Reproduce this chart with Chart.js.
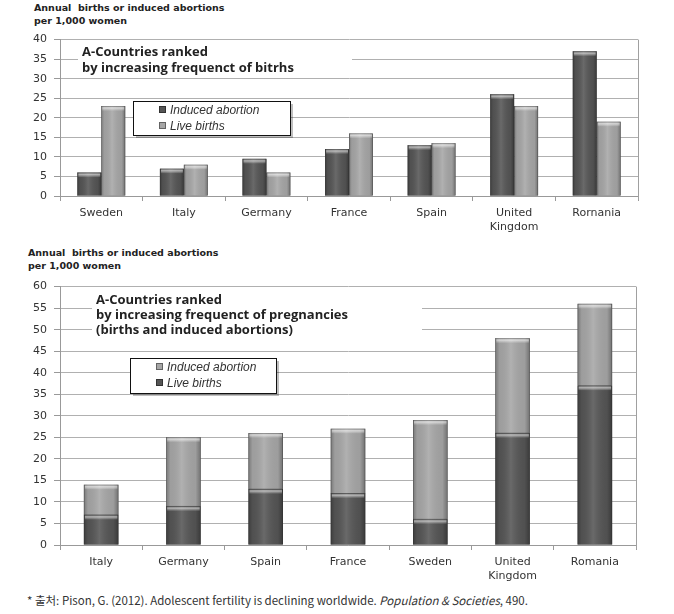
<!DOCTYPE html>
<html>
<head>
<meta charset="utf-8">
<script src="https://cdn.jsdelivr.net/npm/chart.js@4.4.0/dist/chart.umd.min.js"></script>
<style>
  body { margin: 0; background: #fff; width: 674px; height: 614px; position: relative; overflow: hidden; }
  .ytitle { position: absolute; font: bold 9.5px "DejaVu Sans", sans-serif; color: #222; line-height: 13px; white-space: pre; }
  canvas { position: absolute; left: 0; }
  .note { position: absolute; left: 27px; top: 592px; font: 11.5px "Noto Sans CJK KR", sans-serif; color: #333; white-space: pre; }
</style>
</head>
<body>
<div class="ytitle" style="left:34px; top:1px;">Annual  births or induced abortions
per 1,000 women</div>
<canvas id="top" width="674" height="214" style="top:26px"></canvas>

<div class="ytitle" style="left:28px; top:246px;">Annual  births or induced abortions
per 1,000 women</div>
<canvas id="bottom" width="674" height="315" style="top:273px"></canvas>

<div class="note">* 출처: Pison, G. (2012). Adolescent fertility is declining worldwide. <i>Population &amp; Societies</i>, 490.</div>

<script>
// top chart: countries ranked by births
const countriesA = ["Sweden", "Italy", "Germany", "France", "Spain", ["United", "Kingdom"], "Rornania"];
const abortionA = [6, 7, 9.5, 12, 13, 26, 37];
const birthsA = [23, 8, 6, 16, 13.5, 23, 19];

// bottom chart: countries ranked by pregnancies (stacked)
const countriesB = ["Italy", "Germany", "Spain", "France", "Sweden", ["United", "Kingdom"], "Romania"];
const birthsB = [7, 9, 13, 12, 6, 26, 37];
const abortionB = [7, 16, 13, 15, 23, 22, 19];

const DARK = '#555555';
const LIGHT = '#a6a6a6';

// gives the bars a rounded, shaded look
const shadeBars = {
  id: 'shadeBars',
  afterDatasetsDraw(chart) {
    const ctx = chart.ctx;
    chart.data.datasets.forEach((ds, i) => {
      const meta = chart.getDatasetMeta(i);
      meta.data.forEach(bar => {
        const x0 = bar.x - bar.width / 2, x1 = bar.x + bar.width / 2;
        const top = Math.min(bar.y, bar.base), bot = Math.max(bar.y, bar.base);
        const g = ctx.createLinearGradient(x0, 0, x1, 0);
        g.addColorStop(0, 'rgba(0,0,0,0.28)');
        g.addColorStop(0.12, 'rgba(0,0,0,0.05)');
        g.addColorStop(0.45, 'rgba(255,255,255,0.12)');
        g.addColorStop(0.85, 'rgba(0,0,0,0.05)');
        g.addColorStop(1, 'rgba(0,0,0,0.32)');
        ctx.save();
        ctx.fillStyle = g;
        ctx.fillRect(x0, top, x1 - x0, bot - top);
        // light cap on top of each segment
        const cap = ctx.createLinearGradient(0, top, 0, top + 5);
        cap.addColorStop(0, 'rgba(255,255,255,0.15)');
        cap.addColorStop(0.4, 'rgba(255,255,255,0.55)');
        cap.addColorStop(1, 'rgba(255,255,255,0)');
        ctx.fillStyle = cap;
        ctx.fillRect(x0 + 1, top, x1 - x0 - 2, Math.min(5, bot - top));
        ctx.strokeStyle = 'rgba(40,40,40,0.5)';
        ctx.lineWidth = 0.6;
        ctx.strokeRect(x0 + 0.3, top + 0.3, x1 - x0 - 0.6, bot - top - 0.3);
        ctx.restore();
      });
    });
  }
};

// right border of the plot
const frameRight = {
  id: 'frameRight',
  beforeDatasetsDraw(chart) {
    const { ctx, chartArea: a } = chart;
    ctx.save();
    ctx.strokeStyle = '#a0a0a0';
    ctx.lineWidth = 1;
    ctx.beginPath();
    ctx.moveTo(a.right + 0.5, a.top);
    ctx.lineTo(a.right + 0.5, a.bottom + 4);
    ctx.stroke();
    ctx.restore();
  }
};

function titleBox(lines, x, y, w, h, step) {
  return {
    id: 'titleBox',
    beforeDatasetsDraw(chart) {
      const ctx = chart.ctx;
      ctx.save();
      ctx.fillStyle = '#fff';
      ctx.fillRect(x, y, w, h);
      ctx.fillStyle = '#222';
      ctx.font = 'bold 13px "Open Sans", sans-serif';
      ctx.textBaseline = 'middle';
      lines.forEach((t, i) => ctx.fillText(t, x + 4, y + 8 + i * step));
      ctx.restore();
    }
  };
}

function legendBox(items, x, y, w, h) {
  return {
    id: 'legendBox',
    afterDatasetsDraw(chart) {
      const ctx = chart.ctx;
      ctx.save();
      ctx.fillStyle = 'rgba(0,0,0,0.25)';
      ctx.fillRect(x + 3, y + 3, w, h);
      ctx.fillStyle = '#fff';
      ctx.fillRect(x, y, w, h);
      ctx.strokeStyle = '#111';
      ctx.lineWidth = 1;
      ctx.strokeRect(x + 0.5, y + 0.5, w, h);
      ctx.font = 'italic 12px "Liberation Sans", sans-serif';
      ctx.textBaseline = 'middle';
      items.forEach((it, i) => {
        const cy = y + 9 + i * 16;
        ctx.fillStyle = it.color;
        ctx.fillRect(x + 26, cy - 4, 7, 7);
        ctx.strokeStyle = 'rgba(0,0,0,0.4)';
        ctx.strokeRect(x + 26.5, cy - 3.5, 6, 6);
        ctx.fillStyle = '#333';
        ctx.fillText(it.text, x + 37, cy + 1);
      });
      ctx.restore();
    }
  };
}

function scales(max, stacked, xHeight) {
  return {
    x: {
      stacked: stacked,
      grid: { drawOnChartArea: false, tickLength: 5, color: '#999' },
      border: { color: '#999' },
      ticks: { color: '#333', font: { family: 'DejaVu Sans', size: 11, lineHeight: 1.2 }, padding: 6, maxRotation: 0 },
      afterFit: s => { s.height = xHeight; }
    },
    y: {
      stacked: stacked,
      min: 0, max: max,
      grid: { color: '#b0b0b0', tickLength: 6, tickColor: '#999' },
      border: { color: '#999' },
      ticks: { stepSize: 5, color: '#333', font: { family: 'DejaVu Sans', size: 11 }, padding: 7 },
      afterFit: s => { s.width = 60; }
    }
  };
}

new Chart(document.getElementById('top'), {
  type: 'bar',
  data: {
    labels: countriesA,
    datasets: [
      { label: 'Induced abortion', data: abortionA, backgroundColor: DARK, categoryPercentage: 0.58, barPercentage: 1 },
      { label: 'Live births', data: birthsA, backgroundColor: LIGHT, categoryPercentage: 0.58, barPercentage: 1 }
    ]
  },
  options: {
    responsive: false,
    animation: false,
    layout: { padding: { left: 0, right: 36, top: 8, bottom: 0 } },
    plugins: { legend: { display: false }, tooltip: { enabled: false } },
    scales: scales(40, false, 44)
  },
  plugins: [frameRight,
    titleBox(['A-Countries ranked', 'by increasing frequenct of bitrhs'], 78, 18, 274, 32, 16),
    legendBox([{ text: 'Induced abortion', color: DARK }, { text: 'Live births', color: LIGHT }], 133, 75, 157, 34),
    shadeBars]
});

new Chart(document.getElementById('bottom'), {
  type: 'bar',
  data: {
    labels: countriesB,
    datasets: [
      { label: 'Live births', data: birthsB, backgroundColor: DARK, categoryPercentage: 1, barPercentage: 0.42 },
      { label: 'Induced abortion', data: abortionB, backgroundColor: LIGHT, categoryPercentage: 1, barPercentage: 0.42 }
    ]
  },
  options: {
    responsive: false,
    animation: false,
    layout: { padding: { left: 0, right: 38, top: 9, bottom: 0 } },
    plugins: { legend: { display: false }, tooltip: { enabled: false } },
    scales: scales(60, true, 43)
  },
  plugins: [frameRight,
    titleBox(['A-Countries ranked', 'by increasing frequenct of pregnancies', '(births and induced abortions)'], 92, 19, 330, 48, 15),
    legendBox([{ text: 'Induced abortion', color: LIGHT }, { text: 'Live births', color: DARK }], 130, 85, 146, 35),
    shadeBars]
});
</script>
</body>
</html>
